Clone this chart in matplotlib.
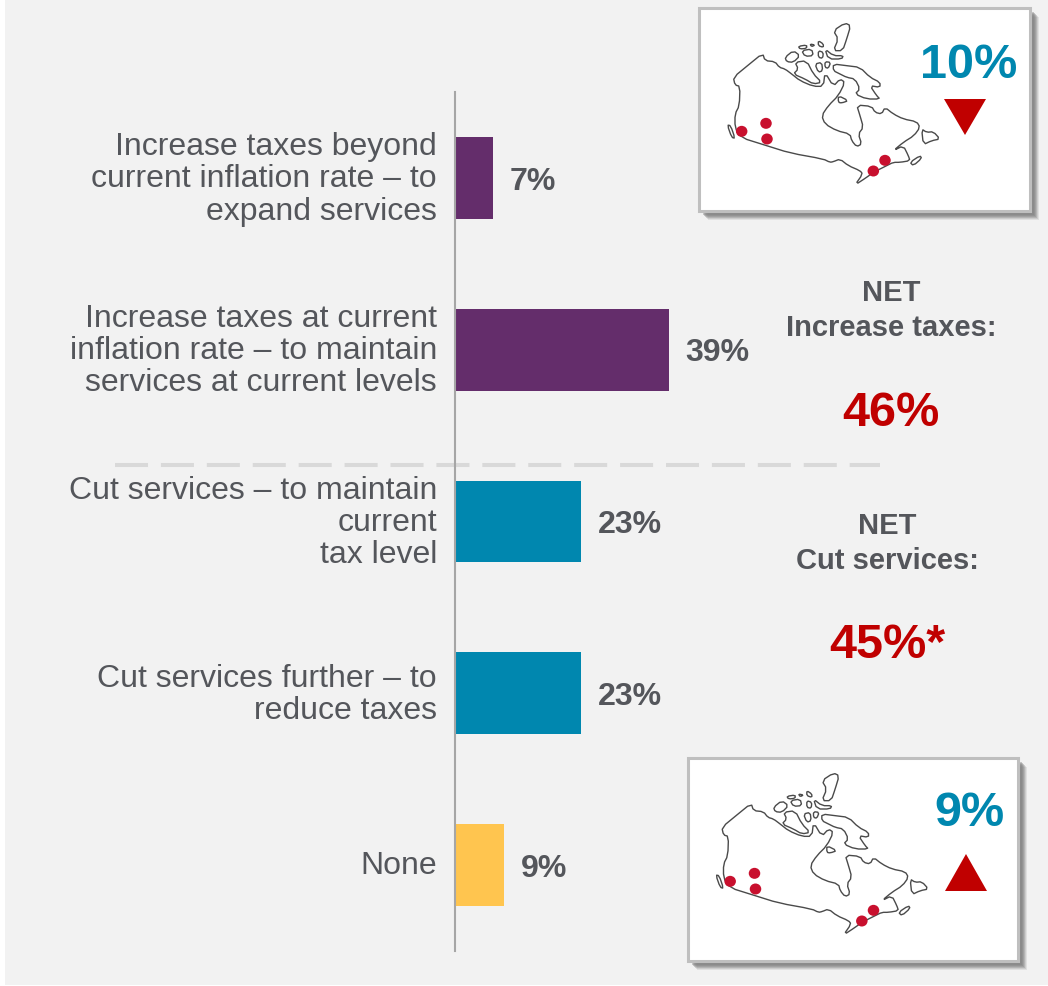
import matplotlib
matplotlib.use("Agg")
import matplotlib.pyplot as plt
from matplotlib.patches import Rectangle, Polygon, Ellipse
from matplotlib.transforms import ScaledTranslation

plt.rcParams['font.family'] = ['Liberation Sans', 'DejaVu Sans']

# Data
categories = [
    "Increase taxes beyond\ncurrent inflation rate – to\nexpand services",
    "Increase taxes at current\ninflation rate – to maintain\nservices at current levels",
    "Cut services – to maintain\ncurrent\ntax level",
    "Cut services further – to\nreduce taxes",
    "None",
]
values = [7, 39, 23, 23, 9]
bar_colors = ["#642D6B", "#642D6B", "#0087AF", "#0087AF", "#FFC54F"]

net_increase = "46%"
net_cut = "45%*"
top_change = "10%"
bottom_change = "9%"

# Canada outline
mainland = [(218,163),(175,198),(130,235),(135,258),(150,262),(148,320),(135,345),(135,385),(150,415),(230,440),
            (300,462),(400,480),(420,490),(430,488),(450,480),(475,500),(510,515),(518,525),(495,558),(530,535),
            (550,520),(590,500),(610,490),(630,490),(660,485),(655,470),(640,440),(610,455),(640,430),(672,410),
            (690,385),(680,368),(640,360),(610,345),(585,325),(575,345),(555,340),(545,322),(500,318),
            (510,350),(520,385),(505,405),(515,435),(500,443),(485,425),(480,405),(440,395),(405,375),
            (395,350),(415,320),(445,290),(465,250),(450,240),(430,262),(405,220),(400,262),(370,262),
            (330,245),(305,225),(285,210),(268,205),(255,188),(225,185)]
islands = [
    [(430,195),(470,200),(510,205),(540,235),(570,250),(570,265),(540,260),(560,290),(570,300),(530,300),
     (495,285),(510,270),(495,240),(470,235),(450,225),(430,215)],
    [(430,95),(465,72),(482,80),(470,120),(458,155),(430,155),(445,120)],
    [(315,190),(350,185),(370,225),(395,250),(370,255),(345,240),(310,225),(325,210)],
    [(285,175),(310,155),(330,170),(310,190),(290,188)],
    [(695,390),(710,400),(730,398),(750,420),(725,425),(700,437)],
    [(112,378),(122,380),(135,418),(125,415)],
    [(660,490),(690,470),(695,478),(670,500)],
    [(325,142),(350,138),(350,148),(330,150)],
    [(360,135),(375,138),(365,143)],
    [(385,125),(400,135),(400,145),(385,140)],
    [(335,155),(365,150),(370,170),(345,172)],
    [(385,155),(400,160),(398,178),(385,175)],
    [(405,150),(430,170),(460,170),(455,180),(415,180)],
    [(375,195),(395,190),(398,215),(385,220)],
    [(405,188),(422,190),(415,208),(405,205)],
    [(445,290),(475,305),(455,312),(445,310)],
]
cities = [(155,397),(228,373),(231,420),(585,484),(550,516)]

W, H = 1048, 987
fig = plt.figure(figsize=(W / 100, H / 100), dpi=100, facecolor="white")

# overlay in pixel coordinates for the page furniture
bg = fig.add_axes([0, 0, 1, 1])
bg.set_xlim(0, W)
bg.set_ylim(H, 0)
bg.axis("off")
bg.add_patch(Rectangle((5, 0), W - 5, 986, fc="#F2F2F2", ec="none"))
bg.plot([115, 880], [465.5, 465.5], color="#D9D9D9", lw=2.9, dashes=(8.2, 3.2))

# bars
ax = fig.add_axes([455 / W, 1 - 952 / H, (W - 455) / W, (952 - 93) / H])
ax.patch.set_alpha(0)
ax.barh(range(len(values)), values, height=0.477, color=bar_colors)
ax.set_xlim(0, (W - 455) / 5.49)
ax.set_ylim(4.5, -0.5)
for s in ["top", "right", "bottom"]:
    ax.spines[s].set_visible(False)
ax.spines["left"].set_color("#A6A6A6")
ax.spines["left"].set_linewidth(1.5)
ax.set_xticks([])
ax.set_yticks(range(len(values)))
ax.set_yticklabels(categories, fontsize=23, color="#54565B", linespacing=1.09)
ax.tick_params(axis="y", length=0, pad=13)
# nudge the labels up a little
up = ScaledTranslation(0, 4 / 100, fig.dpi_scale_trans)
for lab in ax.get_yticklabels():
    lab.set_transform(lab.get_transform() + up)
for i, v in enumerate(values):
    ax.annotate(f"{v}%", (v, i), xytext=(12, -2), textcoords="offset points", va="center",
                fontsize=23.1, fontweight="bold", color="#54565B")

top = fig.add_axes([0, 0, 1, 1])
top.set_xlim(0, W)
top.set_ylim(H, 0)
top.axis("off")
top.patch.set_alpha(0)

top.text(891, 293, "NET", ha="center", va="center", fontsize=21, fontweight="bold", color="#54565B")
top.text(891, 328, "Increase taxes:", ha="center", va="center", fontsize=21, fontweight="bold", color="#54565B")
top.text(891, 413, net_increase, ha="center", va="center", fontsize=35, fontweight="bold", color="#C00000")
top.text(887, 526, "NET", ha="center", va="center", fontsize=21, fontweight="bold", color="#54565B")
top.text(887, 561, "Cut services:", ha="center", va="center", fontsize=21, fontweight="bold", color="#54565B")
top.text(887, 646, net_cut, ha="center", va="center", fontsize=35, fontweight="bold", color="#C00000")


def smooth(pts, rounds=1):
    # corner cutting so the coast does not look like straight segments
    for _ in range(rounds):
        new = []
        for k in range(len(pts)):
            a, b = pts[k], pts[(k + 1) % len(pts)]
            new.append((0.75 * a[0] + 0.25 * b[0], 0.75 * a[1] + 0.25 * b[1]))
            new.append((0.25 * a[0] + 0.75 * b[0], 0.25 * a[1] + 0.75 * b[1]))
        pts = new
    return pts


def map_box(x0, y0, x1, y1, mx, my):
    # soft shadow, then the white card
    for off, a in [(9, 0.15), (8, 0.2), (7, 0.3), (6, 0.35), (5, 0.4), (4, 0.4)]:
        top.add_patch(Rectangle((x0 + off, y0 + off), x1 - x0, y1 - y0, fc="#7F7F7F", ec="none", alpha=a))
    top.add_patch(Rectangle((x0, y0), x1 - x0, y1 - y0, fc="white", ec="#BFBFBF", lw=2.2))
    for shape in [mainland] + islands:
        pts = [(mx + x / 3, my + y / 3) for x, y in smooth(shape)]
        top.add_patch(Polygon(pts, closed=True, fc="none", ec="#4A4A4A", lw=1.0, joinstyle="round"))
    for x, y in cities:
        top.add_patch(Ellipse((mx + x / 3, my + y / 3), 11.5, 11, fc="#C8102E", ec="none"))


map_box(699, 9, 1030, 212, 690, 0)
map_box(688, 759, 1018, 962, 678.5, 750)

top.text(969, 65, top_change, ha="center", va="center", fontsize=35, fontweight="bold", color="#0087AF")
top.text(969, 814, bottom_change, ha="center", va="center", fontsize=35, fontweight="bold", color="#0087AF")
top.add_patch(Polygon([(944, 100), (986, 100), (965, 136)], fc="#C00000", ec="none"))
top.add_patch(Polygon([(945, 892), (987, 892), (966, 855)], fc="#C00000", ec="none"))

fig.savefig("out.png", dpi=100, facecolor=fig.get_facecolor())
